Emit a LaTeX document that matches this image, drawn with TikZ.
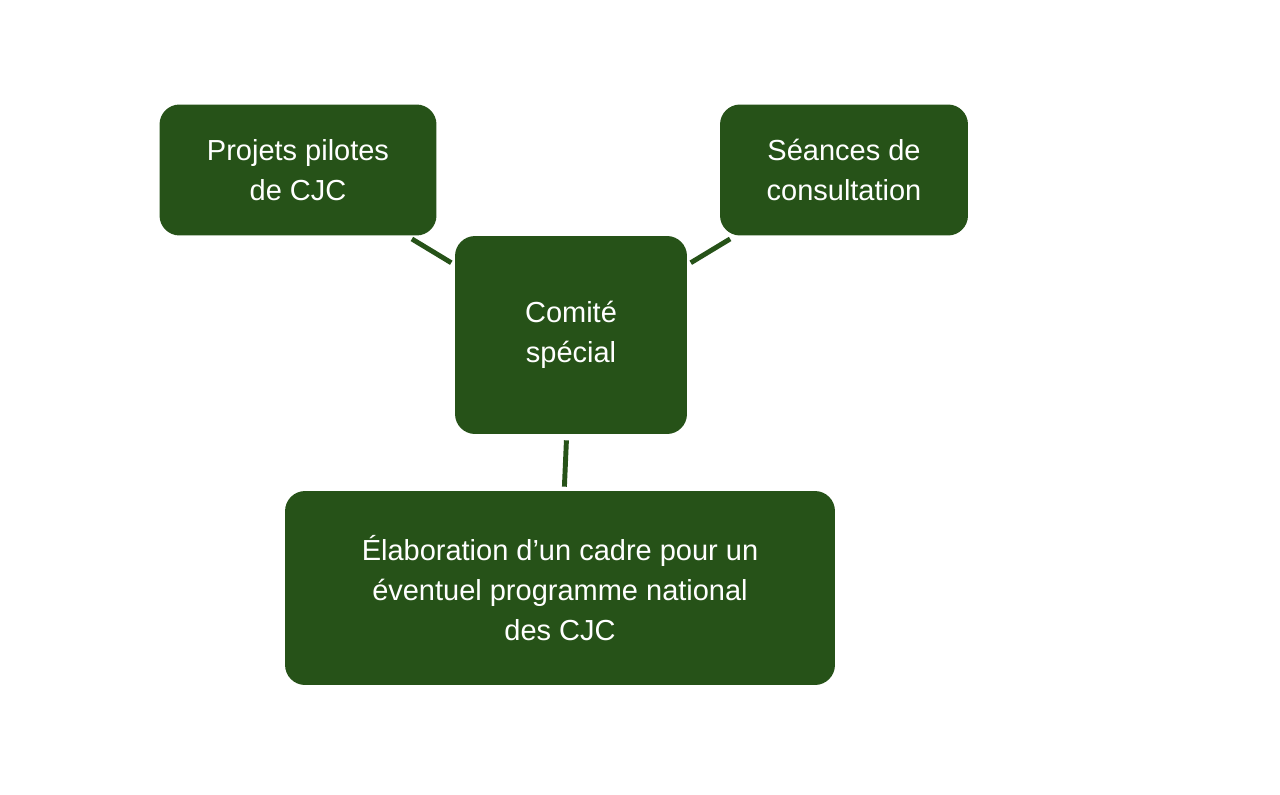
\documentclass[tikz,border=0pt]{standalone}
\usepackage{fontspec}
\setmainfont{Liberation Sans}
\definecolor{boxgreen}{HTML}{265218}
\tikzset{
	box/.style={draw=none,fill=boxgreen,text=white,rounded corners=0.4cm,align=center,
		font=\fontsize{16.5}{23}\selectfont,inner sep=0pt},
	link/.style={draw=boxgreen,line width=2.8pt,shorten <=0.12cm,shorten >=0.08cm}
}
\begin{document}
	\begin{tikzpicture}[x=0.02cm,y=-0.02cm]
		\useasboundingbox (0,0) rectangle (1280,794);
		\node[box,minimum width=5.54cm,minimum height=2.62cm] (pilotes) at (298,170) {Projets pilotes\\de CJC};
		\node[box,minimum width=4.96cm,minimum height=2.62cm] (seances) at (844,170) {Séances de\\consultation};
		\node[box,minimum width=4.64cm,minimum height=3.96cm] (comite) at (571,335) {Comité\\spécial};
		\node[box,minimum width=11cm,minimum height=3.88cm] (cadre) at (560,588) {Élaboration d’un cadre pour un\\éventuel programme national\\des CJC};
		\draw[link] (pilotes) -- (comite);
		\draw[link] (seances) -- (comite);
		\draw[link] (comite) -- (cadre);
	\end{tikzpicture}
\end{document}
